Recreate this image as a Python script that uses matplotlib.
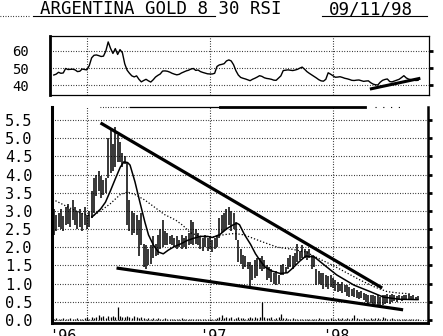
import numpy as np
import matplotlib
matplotlib.use("Agg")
import matplotlib.pyplot as plt
from matplotlib.lines import Line2D

# ---------------- data ----------------
title = "ARGENTINA GOLD 8 30 RSI"
chart_date = "09/11/98"
start_year = 1995.73          # first weekly bar (decimal year)

highs = [
    3.05, 2.90, 2.95, 3.05, 2.85, 3.10, 3.20, 3.05, 3.30, 3.10,
    3.00, 3.05, 2.95, 3.10, 2.90, 3.00, 3.55, 3.90, 4.00, 4.10,
    3.95, 3.85, 3.90, 5.00, 5.25, 4.85, 5.30, 5.10, 4.90, 4.60,
    4.50, 4.35, 3.30, 3.00, 2.95, 2.90, 2.75, 2.95, 2.10, 2.05,
    1.95, 2.05, 2.30, 2.10, 2.35, 2.50, 2.75, 2.45, 2.40, 2.30,
    2.35, 2.25, 2.30, 2.20, 2.35, 2.25, 2.30, 2.40, 2.75, 2.70,
    2.50, 2.40, 2.30, 2.25, 2.35, 2.25, 2.30, 2.20, 2.25, 2.30,
    2.80, 2.90, 2.95, 3.05, 3.10, 3.00, 2.95, 2.70, 2.20, 1.95,
    1.80, 1.75, 1.60, 1.60, 1.50, 1.65, 1.70, 1.70, 1.75, 1.65,
    1.50, 1.45, 1.40, 1.30, 1.35, 1.25, 1.50, 1.55, 1.45, 1.70,
    1.80, 1.75, 1.85, 2.10, 1.90, 2.05, 1.95, 1.90, 1.95, 1.80,
    1.75, 1.40, 1.35, 1.30, 1.30, 1.25, 1.20, 1.25, 1.15, 1.10,
    1.05, 1.00, 1.05, 0.95, 0.95, 0.90, 0.85, 0.88, 0.82, 0.78,
    0.80, 0.75, 0.72, 0.70, 0.68, 0.70, 0.65, 0.68, 0.62, 0.69,
    0.70, 0.72, 0.68, 0.71, 0.69, 0.66, 0.68, 0.65, 0.70, 0.68,
    0.72, 0.66, 0.70, 0.64, 0.66]

lows = [
    2.35, 2.45, 2.55, 2.50, 2.45, 2.60, 2.65, 2.55, 2.75, 2.60,
    2.50, 2.55, 2.45, 2.60, 2.50, 2.55, 2.80, 2.95, 3.40, 3.55,
    3.35, 3.45, 3.50, 3.90, 4.05, 4.10, 4.20, 4.35, 4.35, 4.20,
    4.30, 2.60, 2.45, 2.35, 2.40, 2.35, 1.75, 2.05, 1.45, 1.40,
    1.50, 1.55, 1.70, 1.75, 1.80, 1.95, 2.00, 2.05, 2.05, 2.10,
    2.05, 2.00, 1.95, 2.00, 1.95, 2.00, 1.95, 2.05, 2.10, 2.05,
    2.10, 2.05, 1.95, 1.90, 2.00, 1.90, 1.95, 1.88, 1.95, 2.00,
    2.25, 2.40, 2.45, 2.50, 2.60, 2.45, 2.50, 2.20, 1.60, 1.55,
    1.40, 1.45, 1.40, 0.90, 1.10, 1.15, 1.20, 1.40, 1.35, 1.40,
    1.10, 1.15, 1.05, 1.00, 0.95, 1.00, 1.25, 1.25, 1.30, 1.40,
    1.45, 1.40, 1.50, 1.60, 1.65, 1.70, 1.70, 1.65, 1.70, 1.40,
    1.45, 0.95, 1.00, 0.95, 0.85, 0.90, 0.85, 0.90, 0.88, 0.80,
    0.78, 0.80, 0.75, 0.77, 0.65, 0.63, 0.65, 0.62, 0.60, 0.58,
    0.60, 0.55, 0.50, 0.45, 0.48, 0.44, 0.45, 0.40, 0.36, 0.40,
    0.45, 0.48, 0.44, 0.50, 0.52, 0.50, 0.55, 0.52, 0.56, 0.55,
    0.58, 0.55, 0.58, 0.54, 0.56]

volume = [
    0.03, 0.05, 0.02, 0.04, 0.06, 0.03, 0.02, 0.05, 0.04, 0.03,
    0.06, 0.04, 0.03, 0.05, 0.07, 0.04, 0.08, 0.06, 0.09, 0.14,
    0.07, 0.10, 0.06, 0.12, 0.09, 0.11, 0.08, 0.36, 0.10, 0.07,
    0.09, 0.12, 0.08, 0.06, 0.10, 0.07, 0.05, 0.08, 0.06, 0.04,
    0.05, 0.03, 0.06, 0.04, 0.05, 0.03, 0.04, 0.06, 0.03, 0.02,
    0.04, 0.03, 0.02, 0.03, 0.05, 0.02, 0.03, 0.04, 0.02, 0.03,
    0.02, 0.04, 0.03, 0.02, 0.03, 0.02, 0.04, 0.03, 0.02, 0.05,
    0.07, 0.14, 0.06, 0.08, 0.05, 0.07, 0.04, 0.06, 0.08, 0.05,
    0.06, 0.04, 0.05, 0.09, 0.06, 0.07, 0.05, 0.08, 0.50, 0.09,
    0.06, 0.05, 0.07, 0.04, 0.06, 0.08, 0.17, 0.06, 0.05, 0.04,
    0.03, 0.05, 0.04, 0.03, 0.02, 0.04, 0.03, 0.02, 0.03, 0.02,
    0.04, 0.03, 0.05, 0.03, 0.02, 0.04, 0.03, 0.05, 0.04, 0.03,
    0.05, 0.04, 0.06, 0.03, 0.05, 0.04, 0.06, 0.14, 0.05, 0.04,
    0.03, 0.05, 0.04, 0.03, 0.05, 0.04, 0.06, 0.05, 0.04, 0.08,
    0.05, 0.04, 0.03, 0.05, 0.04, 0.03, 0.02, 0.04, 0.03, 0.02,
    0.03, 0.02, 0.04, 0.03, 0.02]

rsi = [
    46.0, 46.5, 47.6, 47.0, 47.2, 49.8, 49.2, 49.3, 49.4, 49.0,
    48.0, 48.2, 49.5, 49.2, 49.0, 51.5, 56.0, 57.5, 57.7, 57.3,
    56.8, 57.0, 60.0, 65.3, 61.5, 58.6, 61.4, 58.0, 60.8, 59.0,
    52.5, 48.8, 47.0, 45.5, 44.9, 45.5, 43.5, 42.0, 42.8, 43.5,
    42.6, 41.9, 43.2, 44.8, 45.8, 46.6, 48.3, 48.4, 48.2, 47.7,
    47.0, 46.5, 46.1, 46.4, 47.2, 47.8, 48.4, 48.8, 49.5, 49.8,
    48.7, 48.9, 48.0, 47.5, 47.1, 46.7, 46.6, 46.6, 47.0, 51.0,
    51.9, 52.2, 52.6, 54.2, 54.8, 54.2, 52.0, 48.5, 46.0, 44.6,
    44.1, 43.7, 43.2, 42.7, 43.5, 44.1, 44.8, 45.6, 45.2, 44.4,
    44.0, 43.8, 43.5, 43.0, 42.9, 44.2, 45.5, 48.6, 48.8, 49.0,
    48.8, 48.6, 48.9, 49.3, 50.0, 50.6, 49.4, 48.0, 47.0, 46.1,
    45.2, 44.3, 43.3, 42.6, 42.4, 43.5, 47.3, 46.5, 45.6, 44.7,
    44.8, 45.0, 44.6, 44.1, 43.8, 43.4, 42.9, 42.8, 43.0, 43.1,
    42.7, 42.3, 42.5, 42.6, 41.5, 40.7, 40.3, 40.2, 41.8, 42.9,
    43.4, 43.7, 42.2, 42.0, 42.5, 43.0, 43.5, 44.5, 45.6, 44.3,
    43.6, 43.3, 43.1, 42.8, 42.9]

ma_fast_dates = [1996.04, 1996.11, 1996.15, 1996.19, 1996.23, 1996.27, 1996.30, 1996.33,
                 1996.35, 1996.39, 1996.43, 1996.47, 1996.50, 1996.54, 1996.58, 1996.62,
                 1996.66, 1996.71, 1996.76, 1996.81, 1996.86, 1996.92, 1996.98, 1997.02,
                 1997.08, 1997.14, 1997.19, 1997.22, 1997.24, 1997.28, 1997.33, 1997.37,
                 1997.41, 1997.45, 1997.50, 1997.57, 1997.63, 1997.67, 1997.73, 1997.78,
                 1997.85, 1997.93, 1998.03, 1998.17, 1998.31, 1998.41, 1998.54, 1998.69]
ma_fast = [2.83, 3.05, 3.24, 3.55, 3.88, 4.20, 4.35, 4.33,
           4.26, 3.80, 3.24, 2.70, 2.34, 2.06, 1.87, 1.82,
           1.92, 2.02, 2.09, 2.18, 2.24, 2.30, 2.30, 2.27,
           2.35, 2.52, 2.62, 2.66, 2.62, 2.35, 2.08, 1.82,
           1.62, 1.45, 1.35, 1.28, 1.30, 1.42, 1.62, 1.76,
           1.73, 1.51, 1.24, 0.96, 0.77, 0.63, 0.57, 0.56]

ma_slow_dates = [1995.72, 1995.82, 1995.94, 1996.04, 1996.11, 1996.19, 1996.27, 1996.33,
                 1996.39, 1996.47, 1996.55, 1996.63, 1996.72, 1996.78, 1996.84, 1996.92,
                 1997.02, 1997.12, 1997.20, 1997.28, 1997.37, 1997.45, 1997.55, 1997.66,
                 1997.78, 1997.89, 1998.00, 1998.11, 1998.22, 1998.33, 1998.44, 1998.54,
                 1998.63]
ma_slow = [3.32, 3.15, 2.95, 2.85, 3.00, 3.20, 3.45, 3.52,
           3.45, 3.30, 3.10, 2.90, 2.75, 2.60, 2.40, 2.30,
           2.28, 2.35, 2.38, 2.34, 2.22, 2.12, 2.00, 1.95,
           1.87, 1.68, 1.50, 1.30, 1.10, 0.92, 0.78, 0.74,
           0.72]

upper_trend_dates = [1996.11, 1998.40]
upper_trend = [5.42, 0.88]
lower_trend_dates = [1996.24, 1998.57]
lower_trend = [1.43, 0.28]
rsi_trend_dates = [1998.30, 1998.71]
rsi_trend = [37.8, 44.1]

price_ticks = [0.0, 0.5, 1.0, 1.5, 2.0, 2.5, 3.0, 3.5, 4.0, 4.5, 5.0, 5.5]
rsi_ticks = [40, 50, 60]
year_lines = [1996, 1997, 1998]
year_label_dates = [1995.805, 1997.024, 1998.024]
year_labels = ["'96", "'97", "'98"]

# ---------------- layout ----------------
W, H = 443, 336
fig = plt.figure(figsize=(W / 100, H / 100), dpi=100)
fig.patch.set_facecolor("white")
MONO = "DejaVu Sans Mono"
DOT = (0, (0.7, 1.6))


def fx(px):
    return px / W


def fy(py):
    return 1 - py / H


def yr(px):
    return 1996 + (px - 87) / 123.0


dates = start_year + np.arange(len(highs)) / 52.0

# title
fig.text(fx(40), fy(9), title, family=MONO, fontsize=12.5, va="center", ha="left")
fig.text(fx(329), fy(9), chart_date, family=MONO, fontsize=12.5, va="center", ha="left")
fig.add_artist(Line2D([fx(0), fx(30)], [fy(15.5)] * 2, color="k", lw=0.8, ls=DOT))
fig.add_artist(Line2D([fx(33), fx(215)], [fy(15.5)] * 2, color="k", lw=0.8))
fig.add_artist(Line2D([fx(322), fx(427)], [fy(15.5)] * 2, color="k", lw=0.8))

# ---------- RSI panel ----------
axr = fig.add_axes([fx(50), fy(95), (429 - 50) / W, (95 - 36) / H])
axr.set_xlim(yr(50), yr(429))
axr.set_ylim(40 - (95 - 85.3) / 1.715, 60 + (51 - 36) / 1.715)
axr.plot(dates, rsi, color="k", lw=1.0)
axr.plot(rsi_trend_dates, rsi_trend, color="k", lw=2.2, solid_capstyle="butt")
for v in rsi_ticks:
    axr.axhline(v, color="k", lw=0.8, ls=DOT)
for d in year_lines:
    axr.axvline(d, color="k", lw=0.8, ls=DOT)
axr.set_yticks(rsi_ticks)
axr.set_yticklabels([str(v) for v in rsi_ticks], family=MONO, fontsize=10)
axr.set_xticks([])
axr.tick_params(axis="y", left=False, right=True, direction="out", length=3,
                width=2, labelleft=True, pad=12)
for s in axr.spines.values():
    s.set_linewidth(0.9)
axr.spines["left"].set_linewidth(2.0)

# ---------- price panel ----------
ax = fig.add_axes([fx(52), fy(323), (428 - 52) / W, (323 - 107) / H])
ax.set_xlim(yr(52), yr(428))
ppu = 36.36
ax.set_ylim(-(323 - 320) / ppu, (320 - 107) / ppu)

for v in price_ticks:
    ax.axhline(v, color="k", lw=0.8, ls=DOT, zorder=0)
for d in year_lines:
    ax.axvline(d, color="k", lw=0.8, ls=DOT, zorder=0)

ax.vlines(dates, lows, highs, color="k", lw=1.1)
ax.vlines(dates, 0, volume, color="k", lw=0.9)
ax.plot(ma_slow_dates, ma_slow, color="k", lw=0.9, ls=(0, (1, 1.6)))
ax.plot(ma_fast_dates, ma_fast, color="k", lw=1.1)
ax.plot(upper_trend_dates, upper_trend, color="k", lw=2.3, solid_capstyle="butt")
ax.plot(lower_trend_dates, lower_trend, color="k", lw=2.3, solid_capstyle="butt")

ax.set_yticks(price_ticks)
ax.set_yticklabels(["%.1f" % v for v in price_ticks], family=MONO, fontsize=11)
ax.tick_params(axis="y", left=False, right=True, direction="out", length=3,
               width=2, labelleft=True, pad=11)
ax.set_xticks(year_label_dates)
ax.set_xticklabels(year_labels, family=MONO, fontsize=11)
ax.tick_params(axis="x", length=0, pad=4)

ax.spines["top"].set_visible(False)
ax.spines["left"].set_linewidth(2.2)
ax.spines["bottom"].set_linewidth(2.0)
ax.spines["right"].set_linewidth(1.8)

# broken top border of the price panel
fig.add_artist(Line2D([fx(100), fx(130)], [fy(107)] * 2, color="k", lw=0.8, ls=DOT))
fig.add_artist(Line2D([fx(130), fx(220)], [fy(107)] * 2, color="k", lw=0.9))
fig.add_artist(Line2D([fx(220), fx(365)], [fy(106.5)] * 2, color="k", lw=2.0))
fig.add_artist(Line2D([fx(375), fx(405)], [fy(107)] * 2, color="k", lw=0.8, ls=(0, (1, 6))))

fig.savefig("out.png", dpi=100, facecolor="white")
